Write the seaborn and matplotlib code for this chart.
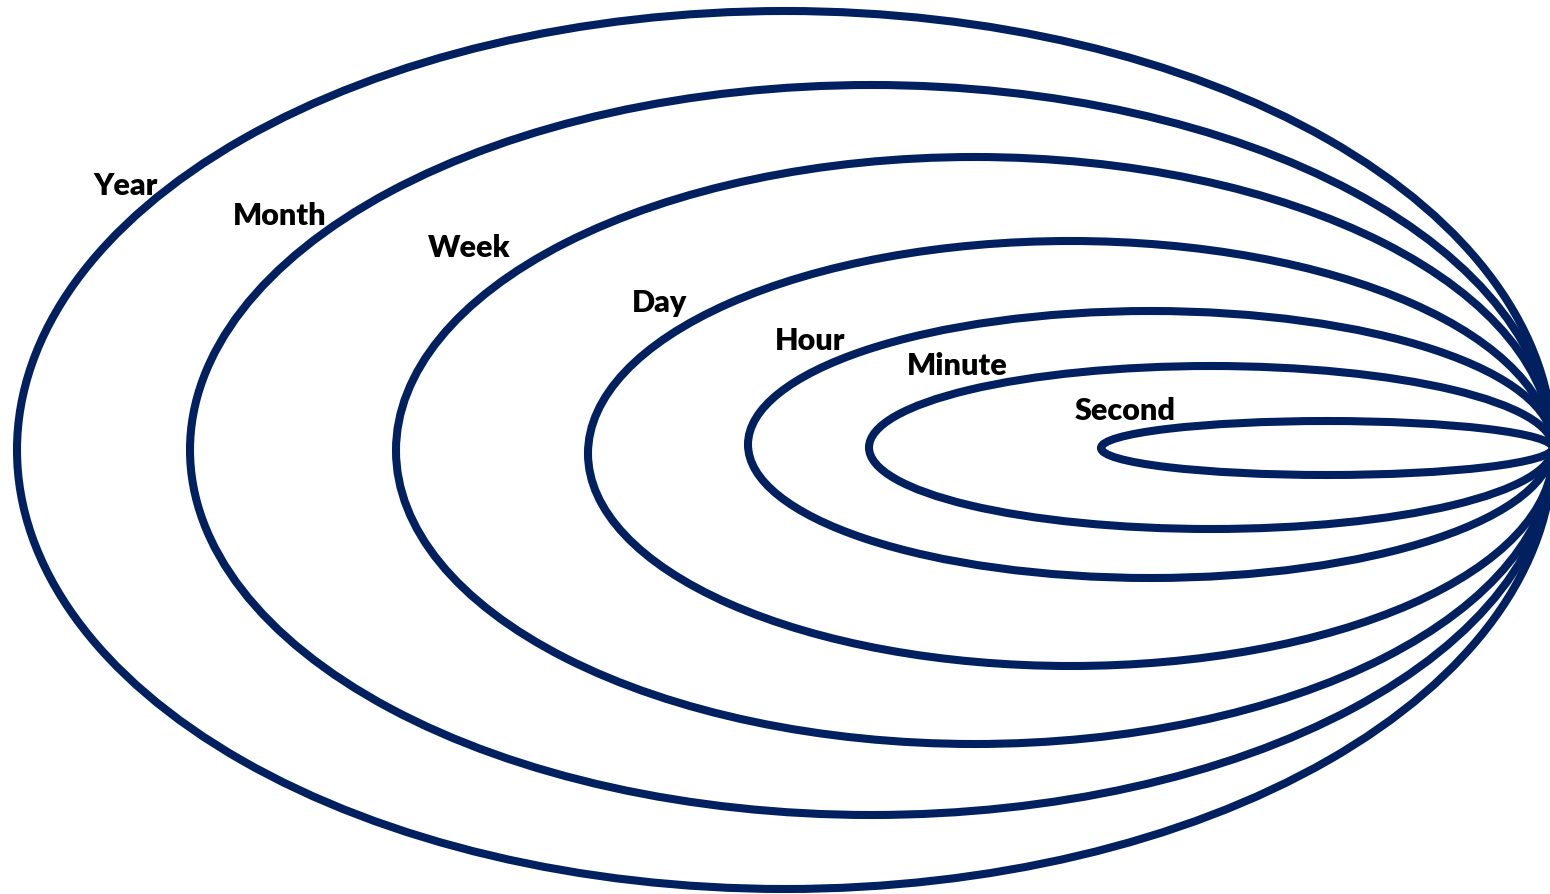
import matplotlib
matplotlib.use("Agg")
import matplotlib.pyplot as plt
from matplotlib.patches import Ellipse
import seaborn as sns

labels = ["Year", "Month", "Week", "Day", "Hour", "Minute", "Second"]
left_x = [17, 190, 396, 588, 748, 869, 1101]
right_x = [1553, 1553, 1553, 1553, 1553, 1553, 1553]
top_y = [11, 85, 157, 241, 311, 366, 421]
bottom_y = [889, 815, 744, 666, 578, 529, 475]
label_x = [93, 233, 428, 632, 775, 907, 1075]
label_y = [186, 216, 248, 303, 341, 366, 411]

sns.set_style("white")
plt.rcParams["font.family"] = ["Lato", "DejaVu Sans"]

color = "#002060"
fig = plt.figure(figsize=(15.5, 8.94), dpi=100)
ax = fig.add_axes([0, 0, 1, 1])
ax.set_xlim(0, 1550)
ax.set_ylim(894, 0)
ax.axis("off")

for lx, rx, ty, by in zip(left_x, right_x, top_y, bottom_y):
    e = Ellipse(((lx + rx) / 2, (ty + by) / 2), rx - lx, by - ty,
                fill=False, edgecolor=color, linewidth=5.8)
    ax.add_patch(e)

for t, x, y in zip(labels, label_x, label_y):
    ax.text(x, y, t, fontsize=22, fontweight="heavy", color="black",
            ha="left", va="center")

fig.savefig("out.png", dpi=100, facecolor="white")
